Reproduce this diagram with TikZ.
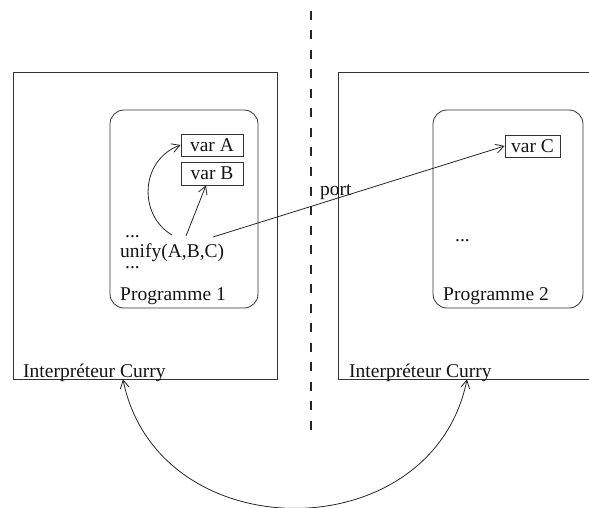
\documentclass[tikz,border=0pt]{standalone}
\usepackage{fontspec}
\setmainfont{Liberation Serif}
\usetikzlibrary{arrows.meta}
\begin{document}
\begin{tikzpicture}[x=1pt,y=-1pt,
  font=\fontsize{19.5}{22}\selectfont,
  every node/.style={text=black!92},
  frame/.style={draw=black!80,line width=0.8pt,inner sep=0pt,rectangle},
  prog/.style={frame,rounded corners=14pt},
  varbox/.style={frame},
  lbl/.style={inner sep=0pt,anchor=base west},
  link/.style={draw=black!85,line width=0.8pt,
    -{Straight Barb[length=8pt,width=9pt,line width=0.8pt]}},
  twoway/.style={draw=black!85,line width=0.8pt,
    {Straight Barb[length=8pt,width=9pt,line width=0.8pt]}-{Straight Barb[length=8pt,width=9pt,line width=0.8pt]}}
]
\useasboundingbox (0,0) rectangle (589,508);

% separation between the two sites
\draw[black!85,line width=1.6pt,dash pattern=on 9pt off 10.5pt] (311,11) -- (311,433);

% interpreters
\node[frame,minimum width=264pt,minimum height=307pt] (interpL) at (145,225.5) {};
\node[frame,minimum width=282pt,minimum height=307pt] (interpR) at (479,225.5) {};
\node[lbl] (labL) at (23,377) {Interpréteur Curry};
\node[lbl] (labR) at (349,377) {Interpréteur Curry};

% programmes
\node[prog,minimum width=148pt,minimum height=198pt] (prog1) at (184,209) {};
\node[prog,minimum width=150pt,minimum height=198pt] (prog2) at (508,209) {};
\node[lbl] (p1) at (120,300) {Programme 1};
\node[lbl] (p2) at (443,300) {Programme 2};

% variables
\node[varbox,minimum width=62pt,minimum height=22pt] (varA) at (212,145) {var A};
\node[varbox,minimum width=62pt,minimum height=23pt] (varB) at (212,173.5) {var B};
\node[varbox,minimum width=55pt,minimum height=22pt] (varC) at (532.5,146) {var C};

% program text
\node[lbl] (dots1) at (125,237) {...};
\node[lbl] (unify) at (120,257) {unify(A,B,C)};
\node[lbl] (dots2) at (125,268) {...};
\node[lbl] (dots3) at (455,241) {...};
\node[lbl] (port) at (320,195) {port};

% references from the unification
\coordinate (uA) at (172,235);
\coordinate (uB) at (186,236);
\coordinate (uC) at (213,237);
\draw[link] (uA) .. controls (138,215) and (140,160) .. (varA.west);
\draw[link] (uB) -- ([xshift=-6pt]varB.south);
\draw[link] (uC) -- (varC.west);

% link between the interpreters
\draw[twoway] ([xshift=-22pt]interpL.south) .. controls (158,551) and (432,551) .. ([xshift=-12pt]interpR.south);
\end{tikzpicture}
\end{document}
